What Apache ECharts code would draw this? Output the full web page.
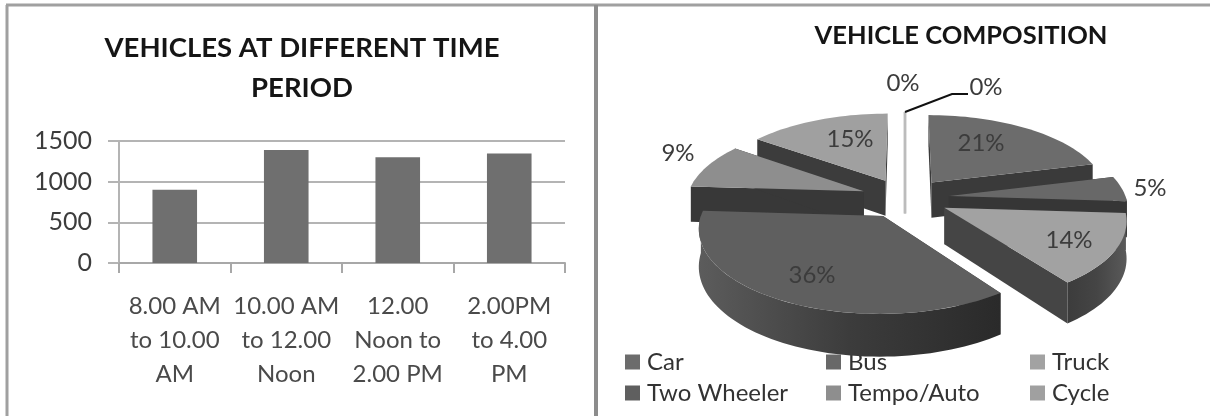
<!DOCTYPE html>
<html>
<head>
<meta charset="utf-8">
<title>Vehicles</title>
<script src="https://cdn.jsdelivr.net/npm/echarts@6/dist/echarts.min.js"></script>
<style>
    html, body { margin: 0; padding: 0; background: #fff; }
    /* the reference is a soft scan */
    #main { width: 1210px; height: 416px; filter: blur(0.5px); }
</style>
</head>
<body>
<div id="main"></div>
<script>
    // bar chart data
    var periods = ['8.00 AM\nto 10.00\nAM', '10.00 AM\nto 12.00\nNoon', '12.00\nNoon to\n2.00 PM', '2.00PM\nto 4.00\nPM'];
    var vehicleCounts = [900, 1390, 1300, 1345];

    // pie chart data, clockwise from 12 o'clock
    var vehicleTypes = ['Car', 'Bus', 'Truck', 'Two Wheeler', 'Tempo/Auto', 'Cycle'];
    var vehicleShares = [21, 5, 14, 36, 9, 15];
    var unlistedShares = [0, 0];

    // pie look
    var topColors = ['#6c6c6c', '#686868', '#a2a2a2', '#5f5f5f', '#8e8e8e', '#a0a0a0', '#bcbcbc', '#bcbcbc'];
    var wallColors = ['#3a3a3a', '#363636', '#454545', '#3c3c3c', '#383838', '#3c3c3c', '#d0d0d0', '#d0d0d0'];
    var wallLeft = ['#3a3a3a', '#363636', '#3c3c3c', '#5c5c5c', '#383838', '#3c3c3c', '#d0d0d0', '#d0d0d0'];
    var wallRight = ['#3a3a3a', '#363636', '#5a5a5a', '#2a2a2a', '#383838', '#3c3c3c', '#d0d0d0', '#d0d0d0'];
    var labelPlaces = [[981, 143], [1150, 188], [1069, 240], [812, 275], [678, 153], [850, 139], [903, 83], [986, 87]];

    // ground plane to screen, the far side of the pie comes out smaller
    var pieX = 905, pieY = 198, radiusX = 177, radiusY = 80, tilt = 0.13, explode = 0.25, depth = 36;

    function project(u, v, drop) {
        var w = 1 - tilt * v;
        return [pieX + radiusX * u / w, pieY + (radiusY * v + (drop || 0) * depth) / w];
    }

    function arcPoints(from, to, offU, offV, drop) {
        var pts = [];
        var steps = Math.max(2, Math.ceil(Math.abs(to - from) / 2));
        for (var i = 0; i <= steps; i++) {
            var a = (from + (to - from) * i / steps) * Math.PI / 180;
            pts.push(project(offU + Math.sin(a), offV - Math.cos(a), drop));
        }
        return pts;
    }

    function buildSlices() {
        var all = vehicleShares.concat(unlistedShares);
        var total = all.reduce(function (s, v) { return s + v; }, 0);
        var start = 0;
        return all.map(function (v, i) {
            var end = start + v / total * 360;
            var mid = (start + end) / 2 * Math.PI / 180;
            var slice = {
                index: i,
                value: v,
                start: start,
                end: end,
                offU: explode * Math.sin(mid),
                offV: -explode * Math.cos(mid)
            };
            start = end;
            return slice;
        });
    }

    function sliceItem(slice) {
        var kids = [];
        var top = topColors[slice.index], wall = wallColors[slice.index];
        var apex = project(slice.offU, slice.offV, 0), apexLow = project(slice.offU, slice.offV, 1);
        var rimTop = arcPoints(slice.start, slice.end, slice.offU, slice.offV, 0);
        var a = rimTop[0], b = rimTop[rimTop.length - 1];
        var aLow = arcPoints(slice.start, slice.start, slice.offU, slice.offV, 1)[0];
        var bLow = arcPoints(slice.end, slice.end, slice.offU, slice.offV, 1)[0];

        kids.push({ type: 'polygon', shape: { points: [apex, a, aLow, apexLow] }, style: { fill: wall } });
        kids.push({ type: 'polygon', shape: { points: [apex, b, bLow, apexLow] }, style: { fill: wall } });

        var wallFrom = Math.max(slice.start, 90), wallTo = Math.min(slice.end, 270);
        if (wallTo > wallFrom) {
            var upper = arcPoints(wallFrom, wallTo, slice.offU, slice.offV, 0);
            var lower = arcPoints(wallFrom, wallTo, slice.offU, slice.offV, 1).reverse();
            kids.push({
                type: 'polygon',
                shape: { points: upper.concat(lower) },
                style: {
                    fill: new echarts.graphic.LinearGradient(0, 0, 1, 0, [
                        { offset: 0, color: wallLeft[slice.index] },
                        { offset: 0.5, color: wall },
                        { offset: 1, color: wallRight[slice.index] }
                    ])
                }
            });
        }

        if (slice.value > 0) {
            kids.push({ type: 'polygon', shape: { points: [apex].concat(rimTop) }, style: { fill: top } });
        } else {
            // a 0% slice is only the thin edge standing at its angle
            kids.push({ type: 'polyline', shape: { points: [a, apexLow] }, style: { stroke: top, lineWidth: 2.5, fill: null } });
        }

        var place = labelPlaces[slice.index];
        kids.push({
            type: 'text',
            z2: 50,
            style: {
                text: slice.value + '%',
                x: place[0],
                y: place[1],
                align: 'center',
                verticalAlign: 'middle',
                fill: '#3c3c3c',
                font: '24px Lato'
            }
        });
        return { type: 'group', children: kids };
    }

    var slices = buildSlices();
    // far slices go first so that near ones paint over them
    var paintOrder = slices.slice().sort(function (p, q) { return p.offV - q.offV; });

    var pieSeries = paintOrder.map(function (slice, order) {
        return {
            type: 'custom',
            name: slice.index < vehicleTypes.length ? vehicleTypes[slice.index] : 'Other ' + slice.index,
            coordinateSystem: 'none',
            silent: true,
            animation: false,
            z: 10 + order,
            itemStyle: { color: topColors[slice.index] },
            data: [[slice.value]],
            renderItem: function () { return sliceItem(slice); }
        };
    });

    var legendBase = {
        orient: 'vertical',
        icon: 'rect',
        padding: 0,
        itemWidth: 15,
        itemHeight: 15,
        itemGap: 7,
        top: 350,
        selectedMode: false,
        z: 4,
        textStyle: { fontFamily: 'Lato', fontSize: 24, color: '#333', padding: [0, 0, 0, 2] }
    };

    var chart = echarts.init(document.getElementById('main'));
    chart.setOption({
        animation: false,
        backgroundColor: '#fff',
        title: [
            {
                text: 'VEHICLES AT DIFFERENT TIME\nPERIOD',
                left: 297,
                top: 23,
                textAlign: 'center',
                textStyle: { fontFamily: 'Lato', fontWeight: 'bold', fontSize: 27.5, lineHeight: 40, color: '#151515' }
            },
            {
                text: 'VEHICLE COMPOSITION',
                left: 956,
                top: 18,
                textAlign: 'center',
                textStyle: { fontFamily: 'Lato', fontWeight: 'bold', fontSize: 25.5, color: '#151515' }
            }
        ],
        legend: [
            Object.assign({}, legendBase, { left: 625, data: ['Car', 'Two Wheeler'] }),
            Object.assign({}, legendBase, { left: 826, data: ['Bus', 'Tempo/Auto'] }),
            Object.assign({}, legendBase, { left: 1030, data: ['Truck', 'Cycle'] })
        ],
        grid: { left: 119, right: 645, top: 141, bottom: 153 },
        xAxis: {
            type: 'category',
            data: periods,
            axisLine: { lineStyle: { color: '#a8a8a8', width: 2 } },
            axisTick: { show: true, length: 10, lineStyle: { color: '#a8a8a8', width: 2 } },
            axisLabel: { color: '#4a4a4a', fontFamily: 'Lato', fontSize: 24, lineHeight: 34, margin: 26, interval: 0 }
        },
        yAxis: {
            type: 'value',
            min: 0,
            max: 1500,
            interval: 500,
            axisLine: { show: true, lineStyle: { color: '#b4b4b4', width: 2 } },
            axisTick: { show: true, length: 11, lineStyle: { color: '#b4b4b4', width: 2 } },
            axisLabel: { color: '#3c3c3c', fontFamily: 'Lato', fontSize: 25, margin: 27, formatter: function (v) { return String(v); } },
            splitLine: { lineStyle: { color: '#b4b4b4', width: 2 } }
        },
        series: [
            {
                type: 'bar',
                name: 'Vehicles',
                data: vehicleCounts,
                barWidth: '40%',
                itemStyle: { color: '#6f6f6f' }
            }
        ].concat(pieSeries),
        graphic: [
            { type: 'line', silent: true, shape: { x1: 6, y1: 5, x2: 1210, y2: 5 }, style: { stroke: '#a0a0a0', lineWidth: 3 } },
            { type: 'line', silent: true, shape: { x1: 7, y1: 5, x2: 7, y2: 416 }, style: { stroke: '#a0a0a0', lineWidth: 3 } },
            { type: 'line', silent: true, shape: { x1: 596, y1: 5, x2: 596, y2: 416 }, style: { stroke: '#8c8c8c', lineWidth: 4 } },
            { type: 'polyline', silent: true, z: 60, shape: { points: [[905, 112], [952, 94], [968, 94]] }, style: { stroke: '#111', lineWidth: 2, fill: 'none' } }
        ]
    });
</script>
</body>
</html>
